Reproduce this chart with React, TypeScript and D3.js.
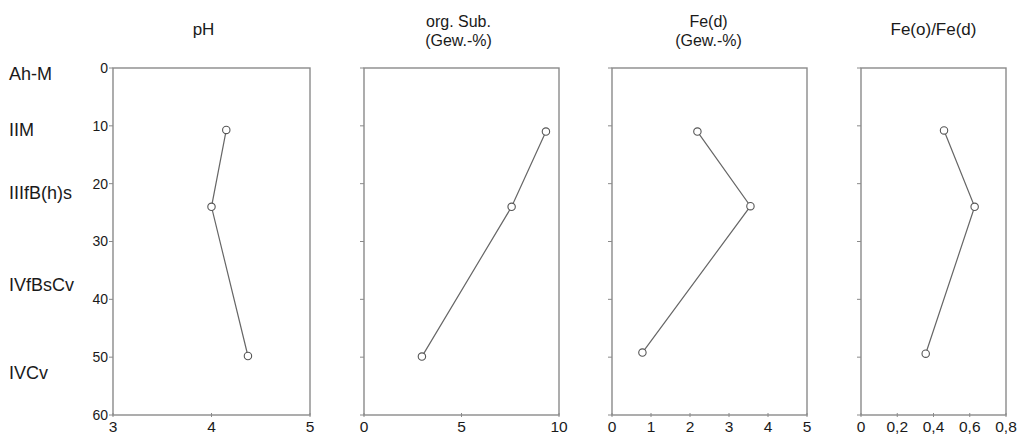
import React from "react";
import * as d3 from "d3";

const horizons = ["Ah-M", "IIM", "IIIfB(h)s", "IVfBsCv", "IVCv"];
const horizonY = [0.9, 10.6, 21.6, 37.5, 52.6];
const depthTicks = [0, 10, 20, 30, 40, 50, 60];

const phValues = [4.15, 4.0, 4.37];
const phDepths = [10.7, 24.0, 49.8];
const orgValues = [9.33, 7.57, 2.97];
const orgDepths = [11.0, 24.0, 49.9];
const fedValues = [2.19, 3.55, 0.78];
const fedDepths = [11.0, 23.9, 49.2];
const ratioValues = [0.458, 0.627, 0.357];
const ratioDepths = [10.8, 24.0, 49.4];

const phTicks = [3, 4, 5];
const orgTicks = [0, 5, 10];
const fedTicks = [0, 1, 2, 3, 4, 5];
const ratioTicks = [0, 0.2, 0.4, 0.6, 0.8];

type Panel = {
  title: string[];
  titleDx: number;
  values: number[];
  depths: number[];
  domain: [number, number];
  ticks: number[];
  fmt: (v: number) => string;
  x0: number;
  x1: number;
  yLabels: boolean;
};

const panels: Panel[] = [
  { title: ["pH"], titleDx: -8, values: phValues, depths: phDepths, domain: [3, 5], ticks: phTicks, fmt: (v) => String(v), x0: 113, x1: 310, yLabels: true },
  { title: ["org. Sub.", "(Gew.-%)"], titleDx: -3, values: orgValues, depths: orgDepths, domain: [0, 10], ticks: orgTicks, fmt: (v) => String(v), x0: 364, x1: 559, yLabels: false },
  { title: ["Fe(d)", "(Gew.-%)"], titleDx: -1, values: fedValues, depths: fedDepths, domain: [0, 5], ticks: fedTicks, fmt: (v) => String(v), x0: 612, x1: 807, yLabels: false },
  { title: ["Fe(o)/Fe(d)"], titleDx: 0, values: ratioValues, depths: ratioDepths, domain: [0, 0.8], ticks: ratioTicks, fmt: (v) => (v === 0 ? "0" : d3.format(".1f")(v).replace(".", ",")), x0: 861, x1: 1006, yLabels: false },
];

const TOP = 68;
const BOTTOM = 415;
const AXIS = "#8a8a8a";
const FONT = "Arial, 'Liberation Sans', Helvetica, sans-serif";

export default function App() {
  const y = d3.scaleLinear().domain([0, 60]).range([TOP, BOTTOM]);
  return (
    <svg width={1023} height={438} style={{ position: "absolute", left: 0, top: 0, background: "#fff" }} fontFamily={FONT}>
      {horizons.map((h, i) => (
        <text key={h} x={9} y={y(horizonY[i])} dy="0.35em" fontSize={18} fill="#1a1a1a">{h}</text>
      ))}
      {panels.map((p, pi) => {
        const x = d3.scaleLinear().domain(p.domain).range([p.x0, p.x1]);
        const line = d3.line<number>().x((v) => x(v)).y((_, i) => y(p.depths[i]));
        const cx = (p.x0 + p.x1) / 2 + p.titleDx;
        const two = p.title.length > 1;
        return (
          <g key={pi}>
            {p.title.map((t, ti) => (
              <text key={ti} x={cx} y={two ? 27 + ti * 18.5 : 35} textAnchor="middle" fontSize={two ? 16 : 17} fill="#1a1a1a">{t}</text>
            ))}
            <rect x={p.x0} y={TOP} width={p.x1 - p.x0} height={BOTTOM - TOP} fill="none" stroke={AXIS} strokeWidth={1.4} />
            {depthTicks.map((d) => (
              <g key={d}>
                <line x1={p.x0 - 4} x2={p.x0} y1={y(d)} y2={y(d)} stroke={AXIS} />
                {p.yLabels && (
                  <text x={p.x0 - 5} y={y(d)} dy="0.35em" textAnchor="end" fontSize={14} fill="#1a1a1a">{d}</text>
                )}
              </g>
            ))}
            {p.ticks.map((t) => (
              <g key={t}>
                <line x1={x(t)} x2={x(t)} y1={BOTTOM - 2} y2={BOTTOM + 2} stroke={AXIS} />
                <text x={x(t)} y={BOTTOM + 17} textAnchor="middle" fontSize={15.5} fill="#1a1a1a">{p.fmt(t)}</text>
              </g>
            ))}
            <path d={line(p.values) || ""} fill="none" stroke="#666" strokeWidth={1.2} />
            {p.values.map((v, i) => (
              <circle key={i} cx={x(v)} cy={y(p.depths[i])} r={3.7} fill="#fff" stroke="#555" strokeWidth={1.1} />
            ))}
          </g>
        );
      })}
    </svg>
  );
}
